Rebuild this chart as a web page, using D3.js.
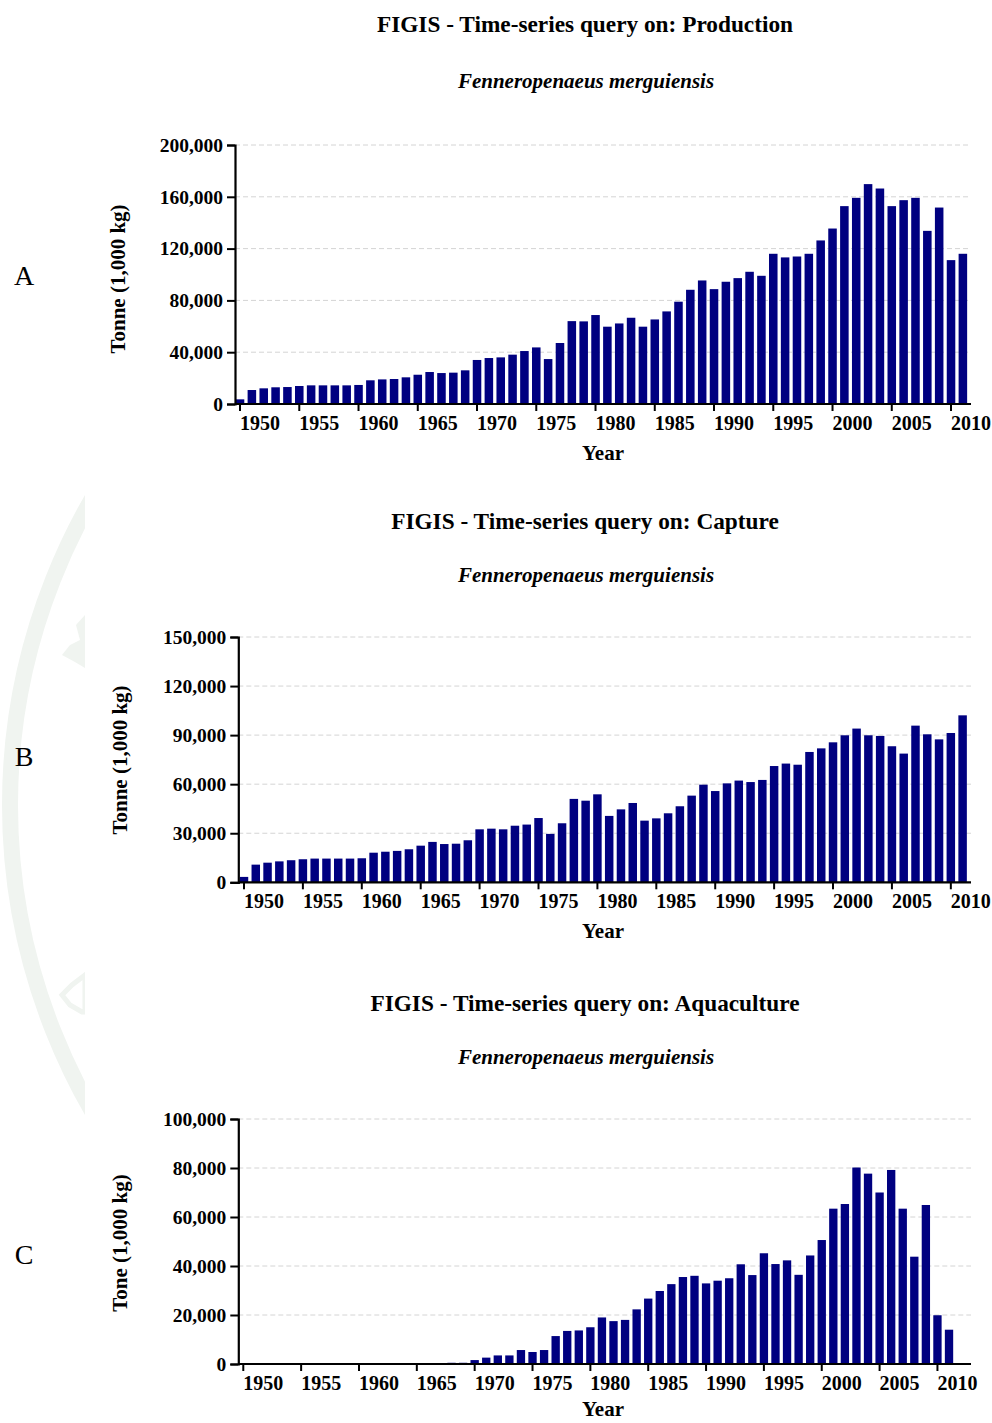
<!DOCTYPE html>
<html>
<head>
<meta charset="utf-8">
<script src="https://cdn.jsdelivr.net/npm/d3@7"></script>
<style>
  body { margin: 0; background: #fff; }
  svg text { font-family: "Liberation Serif", "Times New Roman", serif; }
</style>
</head>
<body>
<svg id="chart" width="992" height="1423"></svg>
<script>
// years 1950..2011, one bar each
var years = d3.range(1950, 2012)
var tickYears = [1950, 1955, 1960, 1965, 1970, 1975, 1980, 1985, 1990, 1995, 2000, 2005, 2010]

var production = [3600, 10800, 12100, 12900, 13100, 13900, 14400, 14400, 14400, 14400,
    14700, 18300, 19000, 19300, 20600, 22600, 24700, 23900, 24200, 26000,
    34000, 35500, 36000, 38100, 40900, 43700, 34700, 47100, 64000, 63800,
    68700, 59700, 62200, 66600, 59700, 65300, 71500, 79000, 88200, 95400,
    88700, 94400, 97200, 102100, 99000, 116000, 113200, 113900, 116000, 126300,
    135500, 152800, 159200, 169800, 166400, 152800, 157400, 159200, 133700, 151700,
    111100, 116000]

var capture = [3300, 10800, 12000, 12800, 13500, 14100, 14500, 14500, 14500, 14500,
    14700, 18100, 18700, 19200, 20200, 22400, 24700, 23400, 23600, 25700,
    32400, 32800, 32400, 34600, 35300, 39300, 29600, 36100, 51000, 49900,
    53800, 40600, 44600, 48500, 37700, 39100, 42200, 46500, 53000, 59700,
    55800, 60500, 62200, 61300, 62600, 71100, 72600, 71900, 79700, 81900,
    85600, 89900, 94000, 89900, 89500, 83200, 78700, 95800, 90500, 87400,
    91300, 102100]

var aquaculture = [0, 0, 0, 0, 0, 0, 0, 0, 0, 0,
    0, 0, 0, 0, 0, 0, 0, 0, 500, 500,
    1600, 2600, 3500, 3500, 5700, 4900, 5700, 11400, 13500, 13700,
    15000, 19000, 17500, 18000, 22300, 26700, 29800, 32600, 35500, 36000,
    32900, 34000, 35000, 40700, 36300, 45200, 40800, 42300, 36400, 44300,
    50600, 63400, 65300, 80200, 77700, 70000, 79200, 63400, 43800, 64900,
    19900, 14000]

var productionTicks = [0, 40000, 80000, 120000, 160000, 200000]
var captureTicks = [0, 30000, 60000, 90000, 120000, 150000]
var aquacultureTicks = [0, 20000, 40000, 60000, 80000, 100000]

var species = "Fenneropenaeus merguiensis"

var svg = d3.select("#chart")

// faint watermark (logo ring) on the left edge
svg.append("clipPath").attr("id", "wm").append("rect")
    .attr("x", 0).attr("y", 0).attr("width", 85).attr("height", 1423)
var wm = svg.append("g").attr("clip-path", "url(#wm)")
wm.append("circle")
    .attr("cx", 622).attr("cy", 805).attr("r", 612)
    .attr("fill", "none").attr("stroke", "#f0f4f0").attr("stroke-width", 16)
wm.append("path").attr("d", "M85,615 L76,625 L80,640 L70,645 L62,655 L75,662 L85,668 Z").attr("fill", "#f0f4f0")
wm.append("path").attr("d", "M85,975 L72,985 L62,995 L70,1005 L82,1012 L85,1012 Z").attr("fill", "none")
    .attr("stroke", "#f0f4f0").attr("stroke-width", 5)

var panels = [
    { letter: "A", title: "FIGIS - Time-series query on: Production", values: production, ticks: productionTicks,
      ylabel: "Tonne (1,000 kg)", titleY: 32, subY: 88, letterY: 285, ylabX: 125, ylabY: 279,
      axisX: 235, axisEnd: 971, x0: 234.1, x1: 968.8, top: 145, bottom: 404, yearY: 460 },
    { letter: "B", title: "FIGIS - Time-series query on: Capture", values: capture, ticks: captureTicks,
      ylabel: "Tonne (1,000 kg)", titleY: 529, subY: 582, letterY: 766, ylabX: 127, ylabY: 760,
      axisX: 238.3, axisEnd: 971, x0: 238.1, x1: 968.5, top: 637, bottom: 882.3, yearY: 938 },
    { letter: "C", title: "FIGIS - Time-series query on: Aquaculture", values: aquaculture, ticks: aquacultureTicks,
      ylabel: "Tone (1,000 kg)", titleY: 1011, subY: 1064, letterY: 1264, ylabX: 127, ylabY: 1243,
      axisX: 238.3, axisEnd: 971, x0: 237.5, x1: 954.8, top: 1119, bottom: 1364, yearY: 1416 }
]

panels.forEach(function (p) {
    var g = svg.append("g")

    var x = d3.scaleBand().domain(years).range([p.x0, p.x1]).paddingInner(0.28).paddingOuter(0.14)
    var y = d3.scaleLinear().domain([0, d3.max(p.ticks)]).range([p.bottom, p.top])

    // titles
    g.append("text").attr("x", 585).attr("y", p.titleY).attr("text-anchor", "middle")
        .style("font-size", "23.3px").style("font-weight", "bold").text(p.title)
    g.append("text").attr("x", 586).attr("y", p.subY).attr("text-anchor", "middle")
        .style("font-size", "21px").style("font-weight", "bold").style("font-style", "italic").text(species)

    g.append("text").attr("x", 24).attr("y", p.letterY).attr("text-anchor", "middle")
        .style("font-size", "28px").text(p.letter)

    // dashed grid
    g.selectAll(".grid").data(p.ticks.filter(function (t) { return t > 0 })).enter()
        .append("line")
        .attr("x1", p.axisX).attr("x2", p.axisEnd)
        .attr("y1", function (d) { return y(d) }).attr("y2", function (d) { return y(d) })
        .attr("stroke", "#d4d4d4").attr("stroke-dasharray", "5,3")

    // bars
    g.selectAll(".bar").data(p.values).enter()
        .append("rect")
        .attr("x", function (d, i) { return x(years[i]) })
        .attr("y", function (d) { return y(d) })
        .attr("width", x.bandwidth())
        .attr("height", function (d) { return p.bottom - y(d) })
        .attr("fill", "#000080")

    // y axis
    var yAxis = g.append("g").attr("transform", "translate(" + p.axisX + ",0)")
        .call(d3.axisLeft(y).tickValues(p.ticks).tickFormat(d3.format(",")).tickSize(8).tickPadding(4))
    yAxis.select(".domain").attr("stroke-width", 2.2)
    yAxis.selectAll(".tick line").attr("stroke-width", 2)
    yAxis.selectAll("text").style("font-size", "19.5px").style("font-weight", "bold")
        .style("font-family", "'Liberation Serif', serif").attr("fill", "#000")

    // x axis
    var xAxis = g.append("g").attr("transform", "translate(0," + p.bottom + ")")
    xAxis.append("line").attr("x1", p.axisX).attr("x2", p.axisEnd).attr("stroke", "#000").attr("stroke-width", 2.2)
    var xt = xAxis.selectAll(".xt").data(tickYears).enter().append("g")
        .attr("transform", function (d) { return "translate(" + (x(d) + x.bandwidth() / 2) + ",0)" })
    xt.append("line").attr("y1", 0).attr("y2", 7).attr("stroke", "#000").attr("stroke-width", 2)
    xt.append("text").attr("x", 0).attr("y", 26).attr("text-anchor", "start")
        .style("font-size", "20px").style("font-weight", "bold").text(function (d) { return d })

    // axis titles
    g.append("text").attr("x", 603).attr("y", p.yearY).attr("text-anchor", "middle")
        .style("font-size", "21px").style("font-weight", "bold").text("Year")
    g.append("text").attr("transform", "translate(" + p.ylabX + "," + p.ylabY + ") rotate(-90)")
        .attr("text-anchor", "middle").style("font-size", "21px").style("font-weight", "bold").text(p.ylabel)
})
</script>
</body>
</html>
